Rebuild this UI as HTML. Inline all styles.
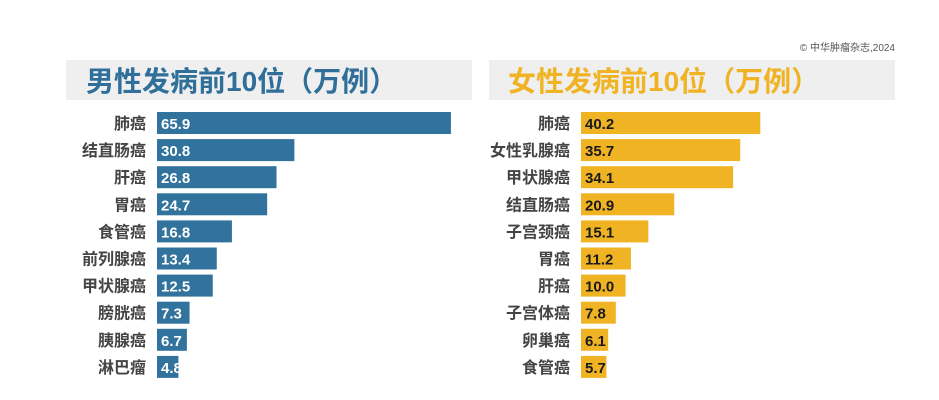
<!DOCTYPE html>
<html><head><meta charset="utf-8"><style>
html,body{margin:0;padding:0;background:#fff;}
svg{display:block;font-family:"Liberation Sans","Noto Sans CJK SC",sans-serif;}
</style></head><body>
<svg id="chart" width="939" height="400" viewBox="0 0 939 400">
<text x="895" y="51" text-anchor="end" font-size="10" fill="#555">© 中华肿瘤杂志,2024</text>
<rect x="66" y="60" width="406" height="40" fill="#efefef"/>
<text x="86" y="91" font-size="28" font-weight="bold" fill="#2f6f99">男性发病前10位（万例）</text>
<rect x="489" y="60" width="406" height="40" fill="#efefef"/>
<text x="508" y="91" font-size="28" font-weight="bold" fill="#f0b323">女性发病前10位（万例）</text>
<g id="male"></g><g id="female"></g>
</svg>
<script>
const maleCats=["肺癌","结直肠癌","肝癌","胃癌","食管癌","前列腺癌","甲状腺癌","膀胱癌","胰腺癌","淋巴瘤"];
const maleVals=[65.9,30.8,26.8,24.7,16.8,13.4,12.5,7.3,6.7,4.8];
const femaleCats=["肺癌","女性乳腺癌","甲状腺癌","结直肠癌","子宫颈癌","胃癌","肝癌","子宫体癌","卵巢癌","食管癌"];
const femaleVals=[40.2,35.7,34.1,20.9,15.1,11.2,10.0,7.8,6.1,5.7];
const NS="http://www.w3.org/2000/svg";
const scale=v=>v*4.46;
const rowY=i=>123+i*27.1;
function draw(gid,cats,vals,x0,color,txt,prefix){
  const g=document.getElementById(gid);
  cats.forEach((c,i)=>{
    const cy=rowY(i);
    const l=document.createElementNS(NS,'text');
    
    
    l.setAttribute('x',x0-11);l.setAttribute('y',cy+6);
    l.setAttribute('text-anchor','end');l.setAttribute('font-size','16');
    l.setAttribute('font-weight','bold');l.setAttribute('fill','#444');
    l.textContent=c;g.appendChild(l);
    const r=document.createElementNS(NS,'rect');
    
    
    r.setAttribute('x',x0);r.setAttribute('y',cy-11);
    r.setAttribute('width',scale(vals[i]));r.setAttribute('height',22);
    r.setAttribute('fill',color);g.appendChild(r);
    const t=document.createElementNS(NS,'text');
    
    
    t.setAttribute('x',x0+4);t.setAttribute('y',cy+6);
    t.setAttribute('font-size','15');t.setAttribute('font-weight','bold');
    t.setAttribute('fill',txt);t.textContent=vals[i].toFixed(1);g.appendChild(t);
  });
}
draw('male',maleCats,maleVals,157,'#31739c','#fff','male');
draw('female',femaleCats,femaleVals,581,'#f0b323','#1a1a1a','female');
</script>
</body></html>
